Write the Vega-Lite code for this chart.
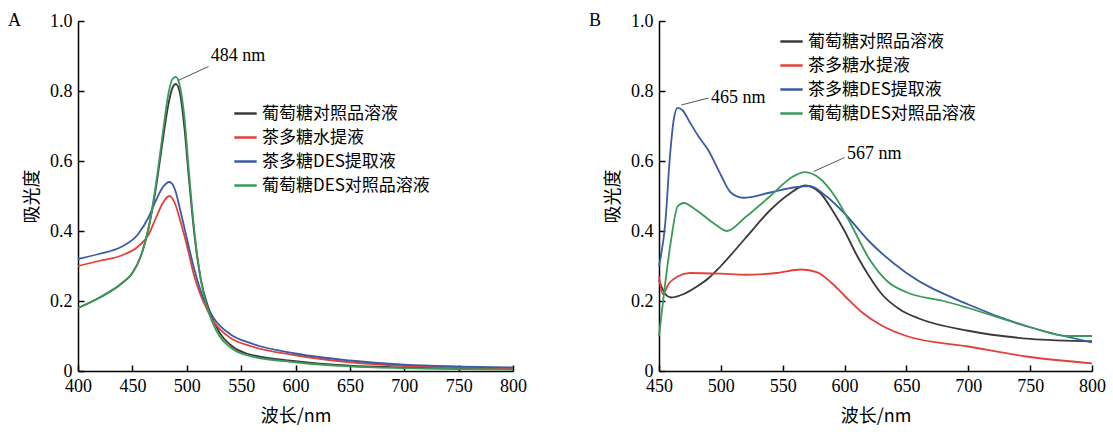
{"$schema":"https://vega.github.io/schema/vega-lite/v6.json","config":{"font":"Noto Sans CJK SC","view":{"stroke":null},"legend":{"labelLimit":400},"axis":{"grid":false,"domainColor":"#000","tickColor":"#000","domainWidth":1.5,"tickWidth":1.5,"tickSize":-6,"labelPadding":12,"labelFlush":false,"labelFontSize":18,"titleFontSize":18,"labelColor":"#000","titleColor":"#000","titleFontWeight":"normal","labelFont":"Liberation Serif","titlePadding":12}},
"datasets":{
"a":[
{"s":"葡萄糖对照品溶液","x":400,"y":0.18},{"s":"葡萄糖对照品溶液","x":420,"y":0.21},{"s":"葡萄糖对照品溶液","x":440,"y":0.25},{"s":"葡萄糖对照品溶液","x":450,"y":0.28},{"s":"葡萄糖对照品溶液","x":458,"y":0.33},{"s":"葡萄糖对照品溶液","x":465,"y":0.41},{"s":"葡萄糖对照品溶液","x":472,"y":0.53},{"s":"葡萄糖对照品溶液","x":478,"y":0.66},{"s":"葡萄糖对照品溶液","x":483,"y":0.76},{"s":"葡萄糖对照品溶液","x":487,"y":0.81},{"s":"葡萄糖对照品溶液","x":490,"y":0.82},{"s":"葡萄糖对照品溶液","x":494,"y":0.79},{"s":"葡萄糖对照品溶液","x":498,"y":0.69},{"s":"葡萄糖对照品溶液","x":502,"y":0.55},{"s":"葡萄糖对照品溶液","x":507,"y":0.39},{"s":"葡萄糖对照品溶液","x":513,"y":0.26},{"s":"葡萄糖对照品溶液","x":520,"y":0.18},{"s":"葡萄糖对照品溶液","x":530,"y":0.11},{"s":"葡萄糖对照品溶液","x":540,"y":0.075},{"s":"葡萄糖对照品溶液","x":555,"y":0.05},{"s":"葡萄糖对照品溶液","x":600,"y":0.028},{"s":"葡萄糖对照品溶液","x":650,"y":0.015},{"s":"葡萄糖对照品溶液","x":700,"y":0.01},{"s":"葡萄糖对照品溶液","x":800,"y":0.005},
{"s":"茶多糖水提液","x":400,"y":0.3},{"s":"茶多糖水提液","x":420,"y":0.315},{"s":"茶多糖水提液","x":440,"y":0.33},{"s":"茶多糖水提液","x":455,"y":0.355},{"s":"茶多糖水提液","x":465,"y":0.39},{"s":"茶多糖水提液","x":472,"y":0.44},{"s":"茶多糖水提液","x":478,"y":0.48},{"s":"茶多糖水提液","x":484,"y":0.5},{"s":"茶多糖水提液","x":489,"y":0.48},{"s":"茶多糖水提液","x":494,"y":0.43},{"s":"茶多糖水提液","x":500,"y":0.36},{"s":"茶多糖水提液","x":507,"y":0.27},{"s":"茶多糖水提液","x":515,"y":0.2},{"s":"茶多糖水提液","x":525,"y":0.14},{"s":"茶多糖水提液","x":540,"y":0.095},{"s":"茶多糖水提液","x":560,"y":0.07},{"s":"茶多糖水提液","x":600,"y":0.045},{"s":"茶多糖水提液","x":650,"y":0.025},{"s":"茶多糖水提液","x":700,"y":0.015},{"s":"茶多糖水提液","x":800,"y":0.008},
{"s":"茶多糖DES提取液","x":400,"y":0.32},{"s":"茶多糖DES提取液","x":420,"y":0.335},{"s":"茶多糖DES提取液","x":440,"y":0.355},{"s":"茶多糖DES提取液","x":455,"y":0.39},{"s":"茶多糖DES提取液","x":465,"y":0.44},{"s":"茶多糖DES提取液","x":472,"y":0.49},{"s":"茶多糖DES提取液","x":478,"y":0.525},{"s":"茶多糖DES提取液","x":484,"y":0.54},{"s":"茶多糖DES提取液","x":489,"y":0.52},{"s":"茶多糖DES提取液","x":494,"y":0.46},{"s":"茶多糖DES提取液","x":500,"y":0.38},{"s":"茶多糖DES提取液","x":507,"y":0.29},{"s":"茶多糖DES提取液","x":515,"y":0.21},{"s":"茶多糖DES提取液","x":525,"y":0.15},{"s":"茶多糖DES提取液","x":540,"y":0.105},{"s":"茶多糖DES提取液","x":560,"y":0.078},{"s":"茶多糖DES提取液","x":600,"y":0.05},{"s":"茶多糖DES提取液","x":650,"y":0.03},{"s":"茶多糖DES提取液","x":700,"y":0.018},{"s":"茶多糖DES提取液","x":800,"y":0.01},
{"s":"葡萄糖DES对照品溶液","x":400,"y":0.18},{"s":"葡萄糖DES对照品溶液","x":420,"y":0.21},{"s":"葡萄糖DES对照品溶液","x":440,"y":0.25},{"s":"葡萄糖DES对照品溶液","x":450,"y":0.28},{"s":"葡萄糖DES对照品溶液","x":458,"y":0.33},{"s":"葡萄糖DES对照品溶液","x":465,"y":0.41},{"s":"葡萄糖DES对照品溶液","x":472,"y":0.54},{"s":"葡萄糖DES对照品溶液","x":478,"y":0.68},{"s":"葡萄糖DES对照品溶液","x":483,"y":0.79},{"s":"葡萄糖DES对照品溶液","x":487,"y":0.835},{"s":"葡萄糖DES对照品溶液","x":490,"y":0.84},{"s":"葡萄糖DES对照品溶液","x":494,"y":0.81},{"s":"葡萄糖DES对照品溶液","x":498,"y":0.72},{"s":"葡萄糖DES对照品溶液","x":502,"y":0.57},{"s":"葡萄糖DES对照品溶液","x":507,"y":0.4},{"s":"葡萄糖DES对照品溶液","x":513,"y":0.26},{"s":"葡萄糖DES对照品溶液","x":520,"y":0.17},{"s":"葡萄糖DES对照品溶液","x":530,"y":0.1},{"s":"葡萄糖DES对照品溶液","x":540,"y":0.068},{"s":"葡萄糖DES对照品溶液","x":555,"y":0.045},{"s":"葡萄糖DES对照品溶液","x":600,"y":0.025},{"s":"葡萄糖DES对照品溶液","x":650,"y":0.013},{"s":"葡萄糖DES对照品溶液","x":700,"y":0.008},{"s":"葡萄糖DES对照品溶液","x":800,"y":0.004}],
"b":[
{"s":"葡萄糖对照品溶液","x":450,"y":0.26},{"s":"葡萄糖对照品溶液","x":455,"y":0.22},{"s":"葡萄糖对照品溶液","x":460,"y":0.21},{"s":"葡萄糖对照品溶液","x":470,"y":0.22},{"s":"葡萄糖对照品溶液","x":480,"y":0.24},{"s":"葡萄糖对照品溶液","x":490,"y":0.265},{"s":"葡萄糖对照品溶液","x":500,"y":0.3},{"s":"葡萄糖对照品溶液","x":520,"y":0.38},{"s":"葡萄糖对照品溶液","x":540,"y":0.46},{"s":"葡萄糖对照品溶液","x":555,"y":0.505},{"s":"葡萄糖对照品溶液","x":568,"y":0.53},{"s":"葡萄糖对照品溶液","x":580,"y":0.51},{"s":"葡萄糖对照品溶液","x":590,"y":0.46},{"s":"葡萄糖对照品溶液","x":600,"y":0.4},{"s":"葡萄糖对照品溶液","x":610,"y":0.33},{"s":"葡萄糖对照品溶液","x":620,"y":0.27},{"s":"葡萄糖对照品溶液","x":630,"y":0.22},{"s":"葡萄糖对照品溶液","x":645,"y":0.175},{"s":"葡萄糖对照品溶液","x":660,"y":0.15},{"s":"葡萄糖对照品溶液","x":700,"y":0.115},{"s":"葡萄糖对照品溶液","x":750,"y":0.092},{"s":"葡萄糖对照品溶液","x":800,"y":0.085},
{"s":"茶多糖水提液","x":450,"y":0.27},{"s":"茶多糖水提液","x":453,"y":0.22},{"s":"茶多糖水提液","x":458,"y":0.25},{"s":"茶多糖水提液","x":465,"y":0.27},{"s":"茶多糖水提液","x":475,"y":0.28},{"s":"茶多糖水提液","x":500,"y":0.278},{"s":"茶多糖水提液","x":520,"y":0.275},{"s":"茶多糖水提液","x":545,"y":0.28},{"s":"茶多糖水提液","x":565,"y":0.29},{"s":"茶多糖水提液","x":578,"y":0.282},{"s":"茶多糖水提液","x":590,"y":0.25},{"s":"茶多糖水提液","x":600,"y":0.215},{"s":"茶多糖水提液","x":615,"y":0.165},{"s":"茶多糖水提液","x":630,"y":0.13},{"s":"茶多糖水提液","x":650,"y":0.1},{"s":"茶多糖水提液","x":700,"y":0.07},{"s":"茶多糖水提液","x":750,"y":0.04},{"s":"茶多糖水提液","x":800,"y":0.022},
{"s":"茶多糖DES提取液","x":450,"y":0.3},{"s":"茶多糖DES提取液","x":455,"y":0.42},{"s":"茶多糖DES提取液","x":459,"y":0.62},{"s":"茶多糖DES提取液","x":462,"y":0.72},{"s":"茶多糖DES提取液","x":465,"y":0.752},{"s":"茶多糖DES提取液","x":469,"y":0.745},{"s":"茶多糖DES提取液","x":475,"y":0.71},{"s":"茶多糖DES提取液","x":482,"y":0.67},{"s":"茶多糖DES提取液","x":490,"y":0.63},{"s":"茶多糖DES提取液","x":500,"y":0.56},{"s":"茶多糖DES提取液","x":508,"y":0.51},{"s":"茶多糖DES提取液","x":518,"y":0.495},{"s":"茶多糖DES提取液","x":540,"y":0.51},{"s":"茶多糖DES提取液","x":560,"y":0.525},{"s":"茶多糖DES提取液","x":572,"y":0.528},{"s":"茶多糖DES提取液","x":585,"y":0.5},{"s":"茶多糖DES提取液","x":600,"y":0.45},{"s":"茶多糖DES提取液","x":620,"y":0.37},{"s":"茶多糖DES提取液","x":650,"y":0.28},{"s":"茶多糖DES提取液","x":700,"y":0.19},{"s":"茶多糖DES提取液","x":750,"y":0.125},{"s":"茶多糖DES提取液","x":800,"y":0.082},
{"s":"葡萄糖DES对照品溶液","x":450,"y":0.1},{"s":"葡萄糖DES对照品溶液","x":455,"y":0.25},{"s":"葡萄糖DES对照品溶液","x":460,"y":0.38},{"s":"葡萄糖DES对照品溶液","x":465,"y":0.47},{"s":"葡萄糖DES对照品溶液","x":470,"y":0.48},{"s":"葡萄糖DES对照品溶液","x":480,"y":0.46},{"s":"葡萄糖DES对照品溶液","x":495,"y":0.42},{"s":"葡萄糖DES对照品溶液","x":505,"y":0.4},{"s":"葡萄糖DES对照品溶液","x":520,"y":0.44},{"s":"葡萄糖DES对照品溶液","x":540,"y":0.5},{"s":"葡萄糖DES对照品溶液","x":558,"y":0.555},{"s":"葡萄糖DES对照品溶液","x":568,"y":0.568},{"s":"葡萄糖DES对照品溶液","x":580,"y":0.55},{"s":"葡萄糖DES对照品溶液","x":592,"y":0.5},{"s":"葡萄糖DES对照品溶液","x":605,"y":0.42},{"s":"葡萄糖DES对照品溶液","x":620,"y":0.32},{"s":"葡萄糖DES对照品溶液","x":635,"y":0.255},{"s":"葡萄糖DES对照品溶液","x":650,"y":0.225},{"s":"葡萄糖DES对照品溶液","x":680,"y":0.2},{"s":"葡萄糖DES对照品溶液","x":700,"y":0.18},{"s":"葡萄糖DES对照品溶液","x":750,"y":0.125},{"s":"葡萄糖DES对照品溶液","x":780,"y":0.1},{"s":"葡萄糖DES对照品溶液","x":800,"y":0.1}]},
"hconcat":[
{"width":435,"height":350,"layer":[
{"data":{"name":"a"},"mark":{"type":"line","strokeWidth":1.8,"interpolate":"monotone"},"encoding":{"x":{"field":"x","type":"quantitative","title":"波长/nm","scale":{"domain":[400,800],"nice":false,"zero":false},"axis":{"values":[400,450,500,550,600,650,700,750,800]}},"y":{"field":"y","type":"quantitative","title":"吸光度","scale":{"domain":[0,1]},"axis":{"values":[0,0.2,0.4,0.6,0.8,1.0],"titlePadding":8,"labelExpr":"datum.value==0?'0':format(datum.value,'.1f')"}},"color":{"field":"s","type":"nominal","scale":{"domain":["葡萄糖对照品溶液","茶多糖水提液","茶多糖DES提取液","葡萄糖DES对照品溶液"],"range":["#3a3a3a","#e3403a","#3c5ba6","#3a9a58"]},"legend":{"title":null,"orient":"none","legendX":155,"legendY":80,"labelFontSize":17,"symbolType":"stroke","symbolStrokeWidth":2.5,"symbolSize":500,"rowPadding":3,"labelColor":"#000"}}}},
{"data":{"values":[{"x1":492,"y1":0.83,"x2":520,"y2":0.87}]},"mark":{"type":"rule","color":"#555"},"encoding":{"x":{"field":"x1","type":"quantitative"},"y":{"field":"y1","type":"quantitative"},"x2":{"field":"x2"},"y2":{"field":"y2"}}},
{"data":{"values":[{"x":522,"y":0.9,"t":"484 nm"}]},"mark":{"type":"text","align":"left","fontSize":18,"font":"Liberation Serif"},"encoding":{"x":{"field":"x","type":"quantitative"},"y":{"field":"y","type":"quantitative"},"text":{"field":"t"}}},
{"data":{"values":[{"x":400,"y":1,"t":"A"}]},"mark":{"type":"text","align":"left","dx":-70,"fontSize":18,"font":"Liberation Serif"},"encoding":{"x":{"field":"x","type":"quantitative"},"y":{"field":"y","type":"quantitative"},"text":{"field":"t"}}}]},
{"width":433,"height":350,"layer":[
{"data":{"name":"b"},"mark":{"type":"line","strokeWidth":1.8,"interpolate":"monotone"},"encoding":{"x":{"field":"x","type":"quantitative","title":"波长/nm","scale":{"domain":[450,800],"nice":false,"zero":false},"axis":{"values":[450,500,550,600,650,700,750,800]}},"y":{"field":"y","type":"quantitative","title":"吸光度","scale":{"domain":[0,1]},"axis":{"values":[0,0.2,0.4,0.6,0.8,1.0],"titlePadding":8,"labelExpr":"datum.value==0?'0':format(datum.value,'.1f')"}},"color":{"field":"s","type":"nominal","scale":{"domain":["葡萄糖对照品溶液","茶多糖水提液","茶多糖DES提取液","葡萄糖DES对照品溶液"],"range":["#3a3a3a","#e3403a","#3c5ba6","#3a9a58"]},"legend":{"title":null,"orient":"none","legendX":120,"legendY":8,"labelFontSize":17,"symbolType":"stroke","symbolStrokeWidth":2.5,"symbolSize":500,"rowPadding":3,"labelColor":"#000"}}}},
{"data":{"values":[{"x1":468,"y1":0.76,"x2":490,"y2":0.78},{"x1":575,"y1":0.57,"x2":600,"y2":0.61}]},"mark":{"type":"rule","color":"#555"},"encoding":{"x":{"field":"x1","type":"quantitative"},"y":{"field":"y1","type":"quantitative"},"x2":{"field":"x2"},"y2":{"field":"y2"}}},
{"data":{"values":[{"x":492,"y":0.78,"t":"465 nm"},{"x":602,"y":0.62,"t":"567 nm"}]},"mark":{"type":"text","align":"left","fontSize":18,"font":"Liberation Serif"},"encoding":{"x":{"field":"x","type":"quantitative"},"y":{"field":"y","type":"quantitative"},"text":{"field":"t"}}},
{"data":{"values":[{"x":450,"y":1,"t":"B"}]},"mark":{"type":"text","align":"left","dx":-70,"fontSize":18,"font":"Liberation Serif"},"encoding":{"x":{"field":"x","type":"quantitative"},"y":{"field":"y","type":"quantitative"},"text":{"field":"t"}}}]}],
"resolve":{"legend":{"color":"independent"},"scale":{"x":"independent"}},"spacing":62,"padding":{"left":8,"top":12,"right":5,"bottom":0}}
